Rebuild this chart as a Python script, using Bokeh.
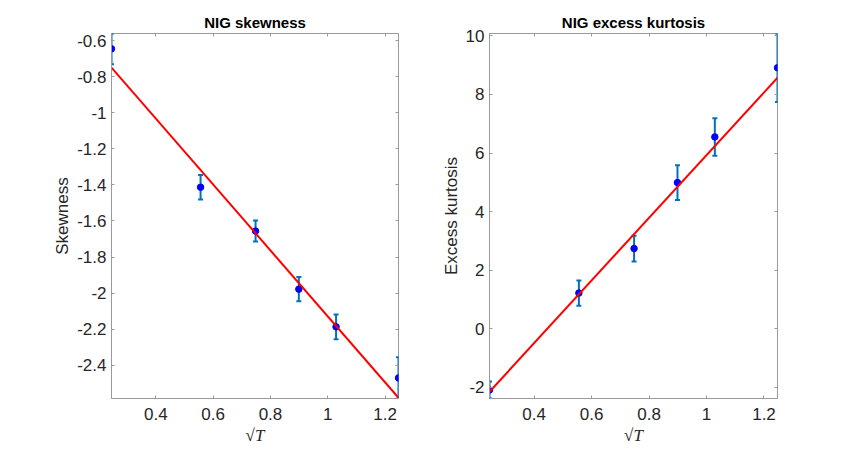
from bokeh.plotting import figure
from bokeh.layouts import row
from bokeh.models import (ColumnDataSource, Range1d, FixedTicker, LinearAxis,
                          NumeralTickFormatter, Whisker, TeeHead)
from bokeh.embed import file_html
from bokeh.resources import INLINE

# ---- data ----
sqrt_T = [0.245, 0.556, 0.748, 0.899, 1.029, 1.247]

skew = [-0.646, -1.413, -1.656, -1.978, -2.187, -2.470]
skew_err = [0.085, 0.068, 0.058, 0.067, 0.069, 0.114]
fit_x = [0.245, 1.247]
fit_skew = [-0.750, -2.580]

kurt = [-2.09, 1.22, 2.74, 4.99, 6.55, 8.91]
kurt_err = [0.29, 0.43, 0.44, 0.59, 0.64, 1.17]
fit_kurt = [-2.15, 8.57]

x_ticks = [0.4, 0.6, 0.8, 1.0, 1.2]
skew_ticks = [-2.4, -2.2, -2.0, -1.8, -1.6, -1.4, -1.2, -1.0, -0.8, -0.6]
kurt_ticks = [-2, 0, 2, 4, 6, 8, 10]

FRAME = "#9a9a9a"
TEXT = "#262626"
FONT = "Liberation Sans"


def make_panel(title, ylabel, yvals, yerr, fit_y, yticks, width, bl, br):
    upper = [v + e for v, e in zip(yvals, yerr)]
    lower = [v - e for v, e in zip(yvals, yerr)]
    ymin = min(min(lower), min(fit_y))
    ymax = max(max(upper), max(fit_y))
    p = figure(width=width, height=450, output_backend="svg", toolbar_location=None,
               x_range=Range1d(min(sqrt_T), max(sqrt_T)),
               y_range=Range1d(ymin, ymax),
               min_border_left=bl, min_border_right=br,
               min_border_top=33, min_border_bottom=52)
    p.background_fill_color = "white"
    p.border_fill_color = "white"
    p.outline_line_color = FRAME
    p.outline_line_width = 1
    p.grid.visible = False

    p.title.text = title
    p.title.align = "center"
    p.title.text_font = FONT
    p.title.text_font_size = "15px"
    p.title.text_font_style = "bold"
    p.title.text_color = "black"
    p.title.standoff = 5

    xa = p.xaxis[0]
    ya = p.yaxis[0]
    for ax, ticks in ((xa, x_ticks), (ya, yticks)):
        ax.ticker = FixedTicker(ticks=ticks)
        ax.formatter = NumeralTickFormatter(format="0.[0]")
        ax.major_tick_in = 3
        ax.major_tick_out = 0
        ax.minor_tick_line_color = None
        ax.major_tick_line_color = FRAME
        ax.axis_line_color = FRAME
        ax.major_label_text_font = FONT
        ax.major_label_text_font_size = "17px"
        ax.major_label_text_color = TEXT
    xa.major_label_standoff = 9
    ya.major_label_standoff = 5

    ya.axis_label = ylabel
    ya.axis_label_text_font = FONT
    ya.axis_label_text_font_size = "17px"
    ya.axis_label_text_font_style = "normal"
    ya.axis_label_text_color = TEXT
    ya.axis_label_standoff = 2

    xa.axis_label = "\u221aT"
    xa.axis_label_text_font = "Liberation Serif"
    xa.axis_label_text_font_size = "17px"
    xa.axis_label_text_font_style = "italic"
    xa.axis_label_text_color = TEXT
    xa.axis_label_standoff = 3

    # tick marks on top and right (MATLAB box)
    for loc, ticks in (("above", x_ticks), ("right", yticks)):
        ax = LinearAxis(ticker=FixedTicker(ticks=ticks))
        ax.major_tick_in = 3
        ax.major_tick_out = 0
        ax.minor_tick_line_color = None
        ax.major_tick_line_color = FRAME
        ax.axis_line_color = None
        ax.major_label_text_color = None
        ax.major_label_text_font_size = "1px"
        ax.major_label_standoff = 0
        p.add_layout(ax, loc)

    src = ColumnDataSource(dict(x=sqrt_T, y=yvals, upper=upper, lower=lower))
    wh = Whisker(base="x", upper="upper", lower="lower", source=src,
                 dimension="height", line_color="#0072BD", line_width=2,
                 upper_head=TeeHead(size=5, line_color="#0072BD", line_width=2),
                 lower_head=TeeHead(size=5, line_color="#0072BD", line_width=2))
    p.add_layout(wh)
    p.scatter("x", "y", source=src, marker="circle", size=6.5,
              fill_color="#0000FF", line_color="#0000FF")
    p.line(fit_x, fit_y, line_color="#FF0000", line_width=2)
    return p


p1 = make_panel("NIG skewness", "Skewness", skew, skew_err, fit_skew,
                skew_ticks, 431, 111, 33)
p2 = make_panel("NIG excess kurtosis", "Excess kurtosis", kurt, kurt_err, fit_kurt,
                kurt_ticks, 427, 58, 81)

layout = row(p1, p2, spacing=0)
open("out.html", "w").write(file_html(layout, INLINE))
